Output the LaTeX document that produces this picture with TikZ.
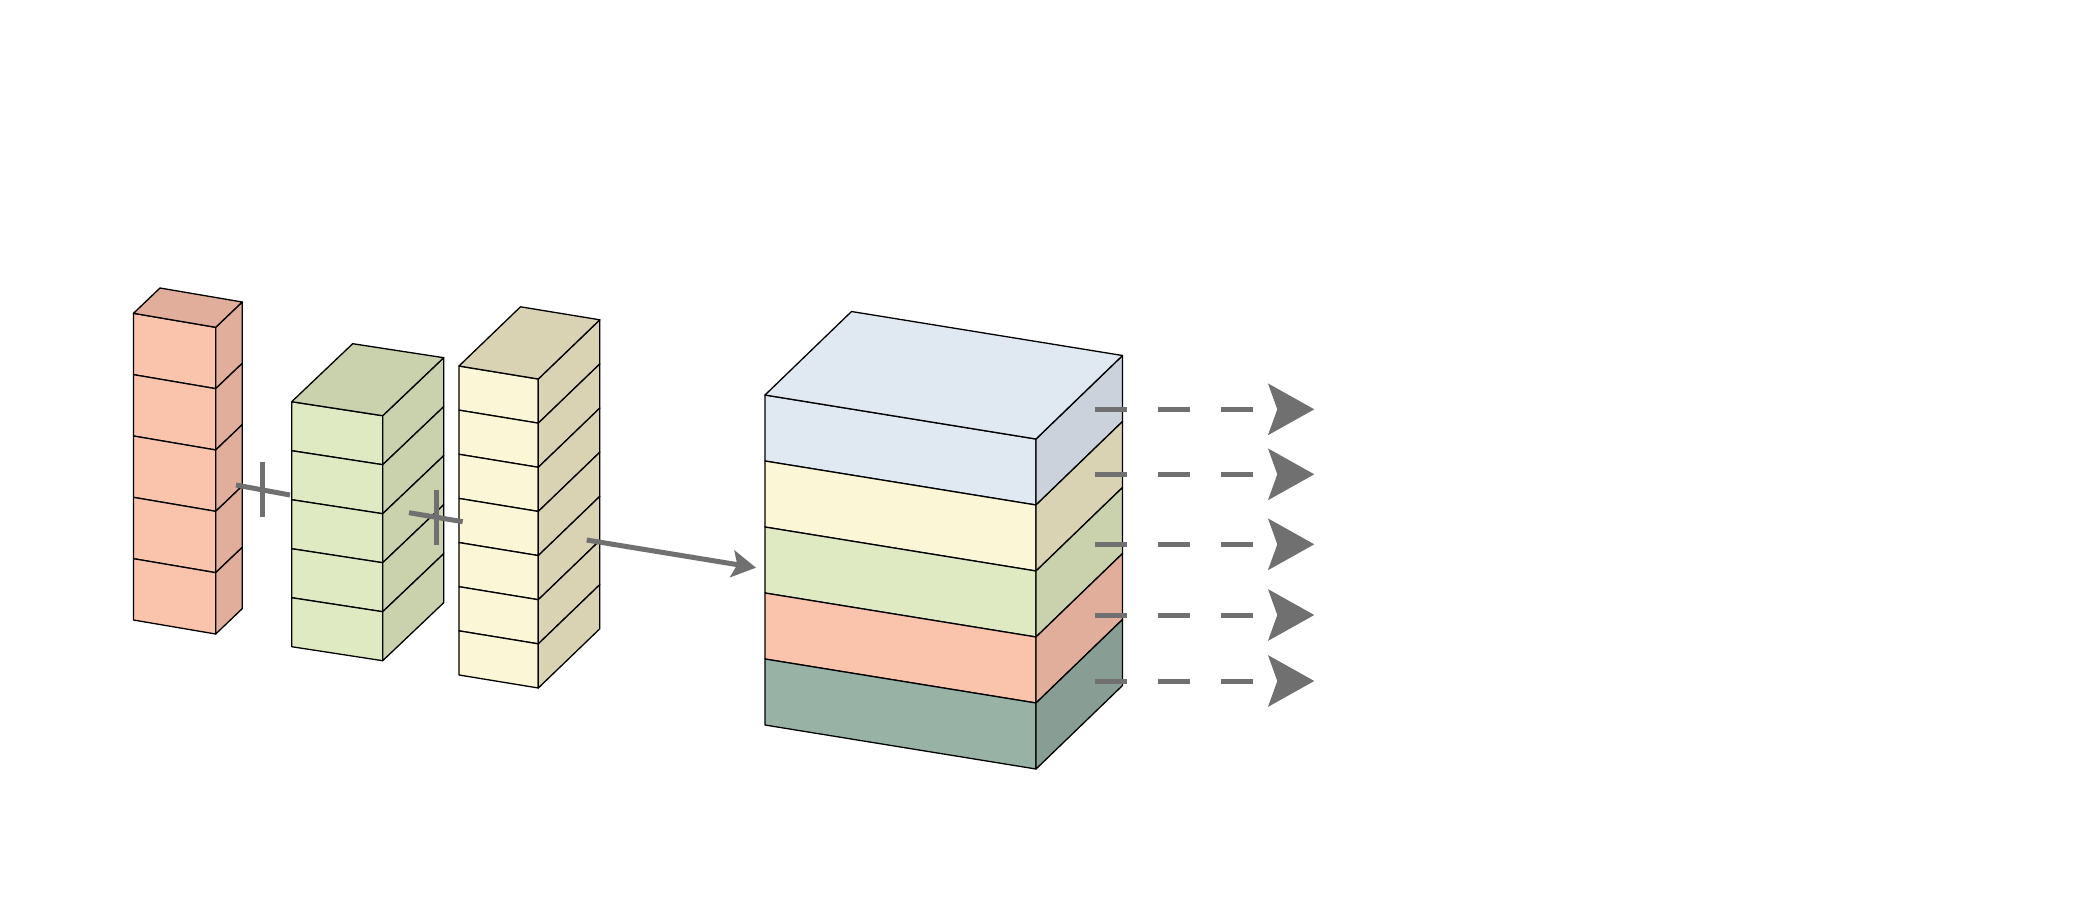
\documentclass[tikz,border=0pt]{standalone}
\usetikzlibrary{arrows.meta}
\definecolor{redF}{HTML}{FAC3AC}
\definecolor{redS}{HTML}{E0AE9A}
\definecolor{grnF}{HTML}{DFEAC2}
\definecolor{grnS}{HTML}{C9D2AD}
\definecolor{yelF}{HTML}{FBF6D5}
\definecolor{yelS}{HTML}{D9D3B4}
\definecolor{bluF}{HTML}{E0E8F2}
\definecolor{bluS}{HTML}{CBD2DC}
\definecolor{slaF}{HTML}{98B3A6}
\definecolor{slaS}{HTML}{889E95}
\definecolor{conn}{HTML}{707070}
\tikzset{
  boxline/.style={draw=black, line width=1.3pt, line join=round},
  plusline/.style={draw=conn, line width=5pt},
  flowarrow/.style={draw=conn, line width=5pt, -{Stealth[length=24pt,width=27pt,inset=5pt]}},
  outarrow/.style={draw=conn, line width=5pt, dash pattern=on 31.7pt off 31.5pt, -{Stealth[length=46pt,width=51pt,inset=9pt]}}
}
% #1 x, #2 y (front top-left), #3 w, #4 slant, #5 h, #6 dx, #7 dy, #8 front, #9 side
\newcommand{\drawslab}[9]{%
  \filldraw[fill=#8, boxline] ({#1},{#2}) -- ++({#3},{#4}) -- ++(0,{#5}) -- ++({-(#3)},{-(#4)}) -- cycle;
  \filldraw[fill=#9, boxline] ({#1+#3},{#2+#4}) -- ++({#6},{#7}) -- ++(0,{#5}) -- ++({-(#6)},{-(#7)}) -- cycle;
}
% #1 x, #2 y, #3 w, #4 slant, #5 dx, #6 dy, #7 colour
\newcommand{\drawtopface}[7]{%
  \filldraw[fill=#7, boxline] ({#1},{#2}) -- ++({#3},{#4}) -- ++({#5},{#6}) -- ++({-(#3)},{-(#4)}) -- cycle;
}
\begin{document}
\begin{tikzpicture}[x=1pt,y=-1pt]
\useasboundingbox (0,0) rectangle (2098,908);
% red column
\foreach \i in {0,...,4} {\drawslab{133.5}{313.3+\i*61.34}{82.2}{14}{61.34}{26.5}{-25.3}{redF}{redS}}
\drawtopface{133.5}{313.3}{82.2}{14}{26.5}{-25.3}{redS}
% green column
\foreach \i in {0,...,4} {\drawslab{291.7}{401.7+\i*49}{91}{14}{49}{61}{-58}{grnF}{grnS}}
\drawtopface{291.7}{401.7}{91}{14}{61}{-58}{grnS}
% yellow column
\foreach \i in {0,...,6} {\drawslab{459}{366+\i*44.14}{79.3}{13}{44.14}{61.5}{-59.2}{yelF}{yelS}}
\drawtopface{459}{366}{79.3}{13}{61.5}{-59.2}{yelS}
% big block
\drawslab{765}{395}{271}{44}{66}{86.5}{-83.5}{bluF}{bluS}
\drawslab{765}{461}{271}{44}{66}{86.5}{-83.5}{yelF}{yelS}
\drawslab{765}{527}{271}{44}{66}{86.5}{-83.5}{grnF}{grnS}
\drawslab{765}{593}{271}{44}{66}{86.5}{-83.5}{redF}{redS}
\drawslab{765}{659}{271}{44}{66}{86.5}{-83.5}{slaF}{slaS}
\drawtopface{765}{395}{271}{44}{86.5}{-83.5}{bluF}
% plus signs
\coordinate (pa1) at (236,485);
\coordinate (pa2) at (290,495);
\coordinate (pa3) at (262.7,461.7);
\coordinate (pa4) at (262.7,517.3);
\coordinate (pb1) at (409,512.7);
\coordinate (pb2) at (462.7,521.7);
\coordinate (pb3) at (436,490);
\coordinate (pb4) at (436,545);
\draw[plusline] (pa1) -- (pa2);
\draw[plusline] (pa3) -- (pa4);
\draw[plusline] (pb1) -- (pb2);
\draw[plusline] (pb3) -- (pb4);
% arrow into the block
\coordinate (fa) at (586.7,540);
\coordinate (fb) at (756,567.7);
\draw[flowarrow] (fa) -- (fb);
% output arrows
\foreach \k/\yy in {1/409.3,2/474.3,3/544.3,4/615,5/681} {
  \coordinate (os\k) at (1095,\yy);
  \coordinate (oe\k) at (1314.3,\yy);
  \draw[outarrow] (os\k) -- (oe\k);
}
\end{tikzpicture}
\end{document}
